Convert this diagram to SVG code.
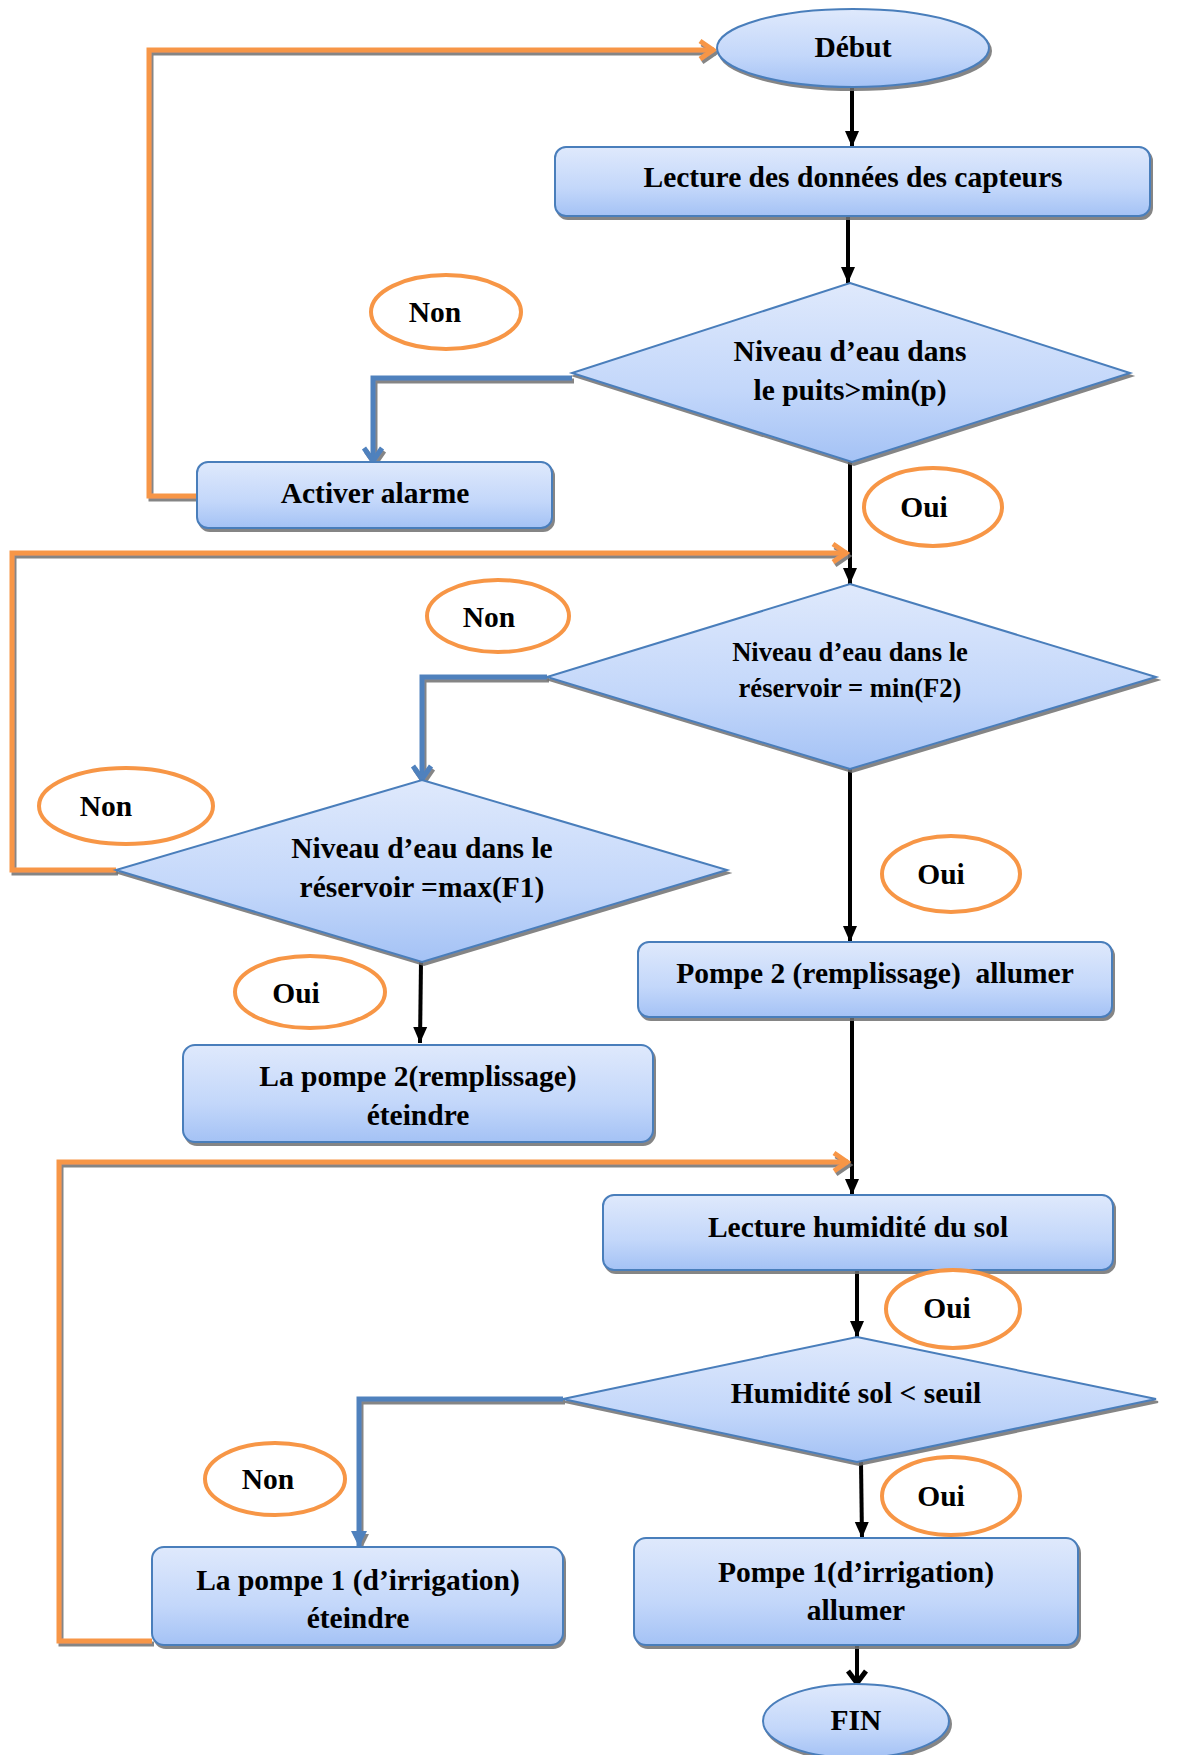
<svg xmlns="http://www.w3.org/2000/svg" width="1196" height="1755" viewBox="0 0 1196 1755">
  <defs>
    <linearGradient id="nodeFill" x1="0" y1="0" x2="0" y2="1">
      <stop offset="0" stop-color="#dfe9fc"/>
      <stop offset="0.6" stop-color="#c3d7fa"/>
      <stop offset="1" stop-color="#a4c2f5"/>
    </linearGradient>
    <filter id="shadow" x="-10%" y="-10%" width="120%" height="130%">
      <feDropShadow dx="2" dy="3" stdDeviation="0.6" flood-color="#707070" flood-opacity="0.85"/>
    </filter>
    <marker id="arrowBlack" markerUnits="userSpaceOnUse" markerWidth="18" markerHeight="16" refX="16" refY="8" orient="auto">
      <path d="M0,1 L16,8 L0,15 z" fill="#000"/>
    </marker>
    <marker id="chevBlack" markerUnits="userSpaceOnUse" markerWidth="20" markerHeight="24" refX="16" refY="12" orient="auto">
      <path d="M3,3 L15,12 L3,21" fill="none" stroke="#000" stroke-width="5"/>
    </marker>
    <marker id="chevOrange" markerUnits="userSpaceOnUse" markerWidth="22" markerHeight="24" refX="17" refY="12" orient="auto">
      <path d="M3,3 L16,12 L3,21" fill="none" stroke="#f79646" stroke-width="5"/>
    </marker>
    <marker id="chevBlue" markerUnits="userSpaceOnUse" markerWidth="22" markerHeight="24" refX="17" refY="12" orient="auto">
      <path d="M3,3 L16,12 L3,21" fill="none" stroke="#4f81bd" stroke-width="5"/>
    </marker>
    <marker id="arrowBlue" markerUnits="userSpaceOnUse" markerWidth="18" markerHeight="18" refX="16" refY="9" orient="auto">
      <path d="M0,1 L16,9 L0,17 z" fill="#4f81bd"/>
    </marker>
  </defs>
  <style>
    .node { fill: url(#nodeFill); stroke: #4a7ebb; stroke-width: 2; filter: url(#shadow); }
    .tag { fill: #fff; stroke: #f79646; stroke-width: 4; }
    text { font-family: "Liberation Serif", "Times New Roman", serif; font-weight: bold; font-size: 29.5px; fill: #000; text-anchor: middle; }
    .small { font-size: 26.6px; }
    .flow { fill: none; stroke: #000; stroke-width: 4; }
    .loop { fill: none; stroke: #f79646; stroke-width: 5; filter: url(#shadow); }
    .branch { fill: none; stroke: #4f81bd; stroke-width: 5; filter: url(#shadow); }
  </style>

  <rect width="1196" height="1755" fill="#fff"/>

  <!-- connectors -->
  <g id="connectors">
    <!-- main flow (black) -->
    <line class="flow" x1="852" y1="87" x2="852" y2="147" marker-end="url(#arrowBlack)"/>
    <line class="flow" x1="848" y1="216" x2="848" y2="283" marker-end="url(#arrowBlack)"/>
    <line class="flow" x1="850" y1="462" x2="850" y2="584" marker-end="url(#arrowBlack)"/>
    <line class="flow" x1="850" y1="769" x2="850" y2="942" marker-end="url(#arrowBlack)"/>
    <line class="flow" x1="421" y1="962" x2="420" y2="1043" marker-end="url(#arrowBlack)"/>
    <line class="flow" x1="852" y1="1017" x2="852" y2="1195" marker-end="url(#arrowBlack)"/>
    <line class="flow" x1="857" y1="1270" x2="857" y2="1337" marker-end="url(#arrowBlack)"/>
    <line class="flow" x1="861" y1="1462" x2="862" y2="1538" marker-end="url(#arrowBlack)"/>
    <line class="flow" x1="857" y1="1645" x2="857" y2="1684" marker-end="url(#chevBlack)"/>

    <!-- "Non" branches (blue) -->
    <polyline class="branch" points="572,378 373,378 373,462" marker-end="url(#chevBlue)"/>
    <polyline class="branch" points="547,677 422,677 422,780" marker-end="url(#chevBlue)"/>
    <polyline class="branch" points="563,1399 359,1399 359,1547" marker-end="url(#arrowBlue)"/>

    <!-- return loops (orange) -->
    <polyline class="loop" points="197,496 149,496 149,50 714,50" marker-end="url(#chevOrange)"/>
    <line class="loop" x1="1196" y1="117" x2="857" y2="117" marker-end="url(#chevOrange)"/>
    <polyline class="loop" points="116,870 12,870 12,553 847,553" marker-end="url(#chevOrange)"/>
    <polyline class="loop" points="152,1641 59,1641 59,1162 848,1162" marker-end="url(#chevOrange)"/>
    <line class="loop" x1="949" y1="1721" x2="1196" y2="1721"/>
  </g>

  <!-- nodes -->
  <g id="debut">
    <ellipse class="node" cx="853" cy="48" rx="136" ry="39"/>
    <text x="853" y="57">Début</text>
  </g>

  <g id="lecture-capteurs">
    <rect class="node" x="555" y="147" width="595" height="69" rx="11"/>
    <text x="853" y="187">Lecture des données des capteurs</text>
  </g>

  <g id="test-puits">
    <polygon class="node" points="850,283 1130,373 852,462 572,373"/>
    <text x="850" y="361">Niveau d’eau dans</text>
    <text x="850" y="400">le puits&gt;min(p)</text>
  </g>

  <g id="tag-non-1">
    <ellipse class="tag" cx="446" cy="312" rx="75" ry="37"/>
    <text x="435" y="322">Non</text>
  </g>

  <g id="activer-alarme">
    <rect class="node" x="197" y="462" width="355" height="66" rx="11"/>
    <text x="375" y="503">Activer alarme</text>
  </g>

  <g id="tag-oui-1">
    <ellipse class="tag" cx="933" cy="507" rx="69" ry="39"/>
    <text x="924" y="517">Oui</text>
  </g>

  <g id="test-min-f2">
    <polygon class="node" points="850,584 1156,677 850,769 547,677"/>
    <text class="small" x="850" y="661">Niveau d’eau dans le</text>
    <text class="small" x="850" y="697">réservoir = min(F2)</text>
  </g>

  <g id="tag-non-2">
    <ellipse class="tag" cx="498" cy="616" rx="71" ry="36"/>
    <text x="489" y="627">Non</text>
  </g>

  <g id="test-max-f1">
    <polygon class="node" points="422,780 727,870 422,962 116,870"/>
    <text x="422" y="858">Niveau d’eau dans le</text>
    <text x="422" y="897">réservoir =max(F1)</text>
  </g>

  <g id="tag-non-3">
    <ellipse class="tag" cx="126" cy="806" rx="87" ry="38"/>
    <text x="106" y="816">Non</text>
  </g>

  <g id="tag-oui-2">
    <ellipse class="tag" cx="951" cy="874" rx="69" ry="38"/>
    <text x="941" y="884">Oui</text>
  </g>

  <g id="pompe2-allumer">
    <rect class="node" x="638" y="942" width="474" height="75" rx="11"/>
    <text x="875" y="983" xml:space="preserve">Pompe 2 (remplissage)  allumer</text>
  </g>

  <g id="tag-oui-3">
    <ellipse class="tag" cx="310" cy="992" rx="75" ry="36"/>
    <text x="296" y="1003">Oui</text>
  </g>

  <g id="pompe2-eteindre">
    <rect class="node" x="183" y="1045" width="470" height="97" rx="12"/>
    <text x="418" y="1086">La pompe 2(remplissage)</text>
    <text x="418" y="1125">éteindre</text>
  </g>

  <g id="lecture-humidite">
    <rect class="node" x="603" y="1195" width="510" height="75" rx="11"/>
    <text x="858" y="1237">Lecture humidité du sol</text>
  </g>

  <g id="tag-oui-4">
    <ellipse class="tag" cx="953" cy="1309" rx="67" ry="39"/>
    <text x="947" y="1318">Oui</text>
  </g>

  <g id="test-humidite">
    <polygon class="node" points="857,1337 1156,1399 857,1462 563,1399"/>
    <text x="856" y="1403">Humidité sol &lt; seuil</text>
  </g>

  <g id="tag-non-4">
    <ellipse class="tag" cx="275" cy="1479" rx="70" ry="36"/>
    <text x="268" y="1489">Non</text>
  </g>

  <g id="pompe1-eteindre">
    <rect class="node" x="152" y="1547" width="411" height="98" rx="12"/>
    <text x="358" y="1590">La pompe 1 (d’irrigation)</text>
    <text x="358" y="1628">éteindre</text>
  </g>

  <g id="tag-oui-5">
    <ellipse class="tag" cx="951" cy="1496" rx="69" ry="39"/>
    <text x="941" y="1506">Oui</text>
  </g>

  <g id="pompe1-allumer">
    <rect class="node" x="634" y="1538" width="444" height="107" rx="12"/>
    <text x="856" y="1582">Pompe 1(d’irrigation)</text>
    <text x="856" y="1620">allumer</text>
  </g>

  <g id="fin">
    <ellipse class="node" cx="856" cy="1721" rx="93" ry="37"/>
    <text x="856" y="1730">FIN</text>
  </g>
</svg>
